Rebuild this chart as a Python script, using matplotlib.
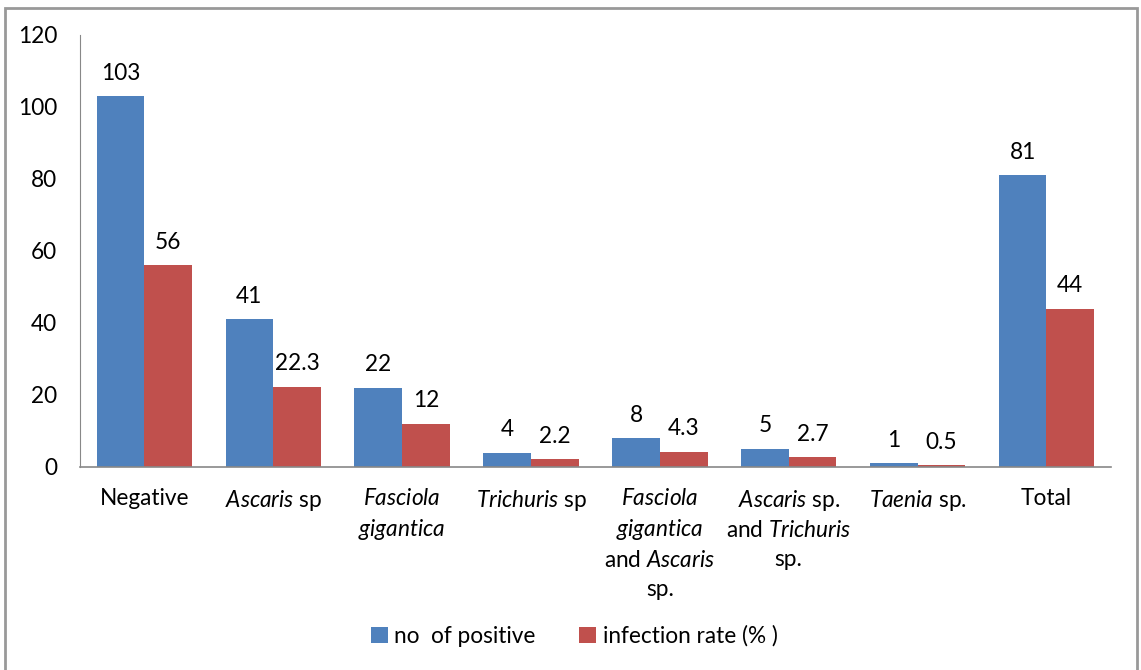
import numpy as np
import matplotlib
matplotlib.use("Agg")
import matplotlib.pyplot as plt
from matplotlib.patches import Rectangle

plt.rcParams['font.family'] = ['Lato', 'DejaVu Sans']
plt.rcParams['mathtext.fontset'] = 'custom'
plt.rcParams['mathtext.rm'] = 'Lato'
plt.rcParams['mathtext.it'] = 'Lato:italic'

categories = [
    'Negative',
    r'$\it{Ascaris}$ sp',
    '$\\it{Fasciola}$\n$\\it{gigantica}$',
    r'$\it{Trichuris}$ sp',
    '$\\it{Fasciola}$\n$\\it{gigantica}$\nand $\\it{Ascaris}$\nsp.',
    '$\\it{Ascaris}$ sp.\nand $\\it{Trichuris}$\nsp.',
    r'$\it{Taenia}$ sp.',
    'Total',
]
no_positive = [103, 41, 22, 4, 8, 5, 1, 81]
infection_rate = [56, 22.3, 12, 2.2, 4.3, 2.7, 0.5, 44]

blue = '#4F81BD'
red = '#C0504D'
fs = 16.3

fig = plt.figure(figsize=(11.41, 6.70), dpi=100)
ax = fig.add_axes([0.0701, 0.303, 0.9035, 0.6448])

x = np.arange(len(categories))
w = 0.37
b1 = ax.bar(x - w / 2, no_positive, w, color=blue, label='no  of positive')
b2 = ax.bar(x + w / 2, infection_rate, w, color=red, label='infection rate (% )')

for bars, vals in [(b1, no_positive), (b2, infection_rate)]:
    for bar, v in zip(bars, vals):
        ax.annotate(f'{v:g}', (bar.get_x() + bar.get_width() / 2, v),
                    xytext=(0, 9), textcoords='offset points',
                    ha='center', va='bottom', fontsize=fs)

ax.set_xlim(-0.5, len(categories) - 0.5)
ax.set_ylim(0, 120)
ax.set_yticks(range(0, 121, 20))
ax.set_xticks(x)
ax.set_xticklabels(categories, fontsize=fs, linespacing=1.45, va='top')
ax.tick_params(axis='y', length=0, pad=16.5, labelsize=fs)
ax.tick_params(axis='x', length=0, pad=15)
for s in ['top', 'right']:
    ax.spines[s].set_visible(False)
ax.spines['left'].set_color('#888888')
ax.spines['bottom'].set_color('#888888')
ax.spines['bottom'].set_linewidth(1.2)

ax.legend(loc='center', bbox_to_anchor=(574 / 1141, 1 - 636 / 670),
          bbox_transform=fig.transFigure, ncol=2, frameon=False,
          fontsize=fs, handlelength=0.75, handleheight=0.75,
          handletextpad=0.3, columnspacing=1.9)

# outer frame
fig.patches.append(Rectangle((5 / 1141, -0.1), 1132 / 1141, 1.1 - 8 / 670,
                             transform=fig.transFigure, fill=False,
                             edgecolor='#999999', linewidth=2))

fig.savefig('out.png', dpi=100)
